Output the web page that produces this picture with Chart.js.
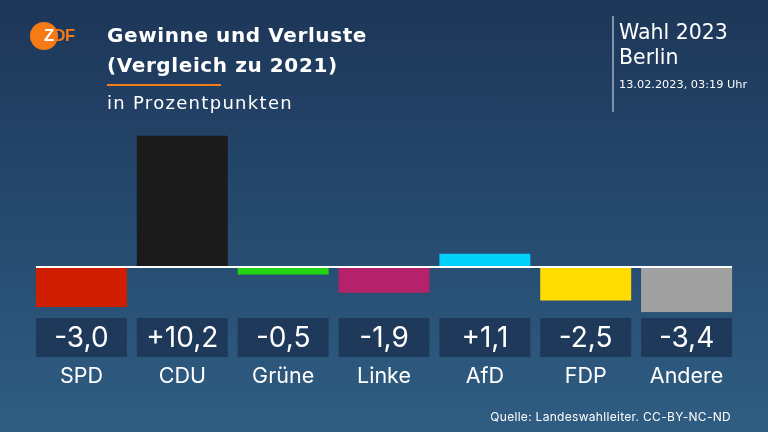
<!DOCTYPE html>
<html>
<head>
<meta charset="utf-8">
<script src="https://cdn.jsdelivr.net/npm/chart.js@4"></script>
<style>
  html, body { margin: 0; padding: 0; }
  body { width: 768px; height: 432px; overflow: hidden; }
  #wrap { position: relative; width: 768px; height: 432px;
    background: linear-gradient(to bottom, #1d3658 0%, #254a6e 50%, #305d82 100%);
    font-family: "DejaVu Sans", sans-serif; color: #fff; }
  #c { position: absolute; left: 0; top: 0; }
  .t { position: absolute; white-space: nowrap; }
  #logoC { position: absolute; left: 30px; top: 22px; width: 28px; height: 28px; border-radius: 50%; background: #f67b16; }
  #logoT { position: absolute; left: 44px; top: 27px; font-weight: 700; font-size: 16.5px; line-height: 1; letter-spacing: -0.5px; font-family: "Liberation Sans", Arial, sans-serif; }
  #title { left: 107px; top: 19.8px; font-weight: 700; font-size: 20px; line-height: 30px; letter-spacing: 0.6px; }
  #uline { position: absolute; left: 107px; top: 84px; width: 114px; height: 2px; background: #f67b16; }
  #sub { left: 107px; top: 94px; font-size: 18px; line-height: 18px; letter-spacing: 1.3px; }
  #vline { position: absolute; left: 612px; top: 16px; width: 2px; height: 96px; background: #7f93ab; }
  #wahl { left: 619px; top: 20.4px; font-size: 20.5px; line-height: 25px; }
  #date { left: 619px; top: 78.6px; font-size: 11.3px; line-height: 11.3px; }
  #src { right: 37px; top: 411.3px; font-family: Inter, Roboto, sans-serif; font-size: 12px; line-height: 12px; letter-spacing: 0.3px; }
</style>
</head>
<body>
<div id="wrap">
  <canvas id="c" width="768" height="432"></canvas>
  <div id="logoC"></div>
  <div class="t" id="logoT"><span style="color:#fff">Z</span><span style="color:#f67b16">DF</span></div>
  <div class="t" id="title">Gewinne und Verluste<br>(Vergleich zu 2021)</div>
  <div id="uline"></div>
  <div class="t" id="sub">in Prozentpunkten</div>
  <div id="vline"></div>
  <div class="t" id="wahl">Wahl 2023<br>Berlin</div>
  <div class="t" id="date">13.02.2023, 03:19 Uhr</div>
  <div class="t" id="src">Quelle: Landeswahlleiter. CC-BY-NC-ND</div>
</div>
<script>
const parties = ["SPD", "CDU", "Grüne", "Linke", "AfD", "FDP", "Andere"];
const changes = [-3.0, 10.2, -0.5, -1.9, 1.1, -2.5, -3.4];
const partyColors = ["#cf1f00", "#1b1b1b", "#22d412", "#b5226a", "#00cff7", "#ffdd00", "#a0a0a0"];

function fmt(v) {
  const s = Math.abs(v).toFixed(1).replace(".", ",");
  return (v > 0 ? "+" : "-") + s;
}

const overlay = {
  id: "overlay",
  afterDatasetsDraw(chart) {
    const ctx = chart.ctx;
    const meta = chart.getDatasetMeta(0);
    const y0 = chart.scales.y.getPixelForValue(0);
    const first = meta.data[0], last = meta.data[meta.data.length - 1];
    ctx.save();
    ctx.fillStyle = "#ffffff";
    ctx.fillRect(first.x - first.width / 2, y0 - 2, (last.x + last.width / 2) - (first.x - first.width / 2), 2);
    meta.data.forEach((bar, i) => {
      const left = bar.x - bar.width / 2;
      ctx.fillStyle = "#1e3959";
      ctx.fillRect(left, 318, bar.width, 39);
      ctx.fillStyle = "#ffffff";
      ctx.textAlign = "center";
      ctx.textBaseline = "alphabetic";
      ctx.font = "28px Inter, Roboto, sans-serif";
      ctx.fillText(fmt(changes[i]), bar.x, 347);
      ctx.font = "21.5px Inter, Roboto, sans-serif";
      ctx.fillText(parties[i], bar.x, 383);
    });
    ctx.restore();
  }
};

new Chart(document.getElementById("c"), {
  type: "bar",
  data: {
    labels: parties,
    datasets: [{
      data: changes,
      backgroundColor: partyColors,
      borderWidth: 0,
      categoryPercentage: 1,
      barPercentage: 0.902
    }]
  },
  options: {
    responsive: false,
    animation: false,
    layout: { padding: { left: 31, right: 31, top: 135.4, bottom: 119.8 } },
    plugins: { legend: { display: false }, tooltip: { enabled: false } },
    scales: {
      x: { display: false },
      y: { display: false, min: -3.4, max: 10.2 }
    }
  },
  plugins: [overlay]
});
</script>
</body>
</html>
